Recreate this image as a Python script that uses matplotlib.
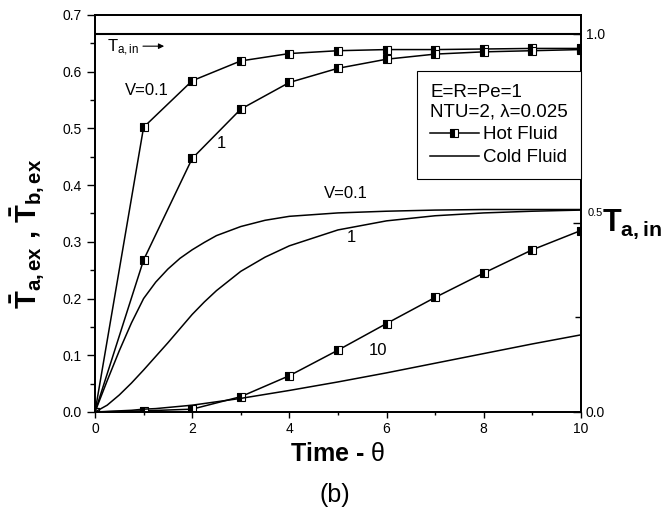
import matplotlib
matplotlib.use('Agg')
import matplotlib.pyplot as plt
from matplotlib.lines import Line2D
from matplotlib.ticker import MultipleLocator, FixedLocator

plt.rcParams['font.family'] = 'Liberation Sans'
plt.rcParams['mathtext.fontset'] = 'custom'
plt.rcParams['mathtext.rm'] = 'Liberation Sans'
plt.rcParams['mathtext.bf'] = 'Liberation Sans:bold'
plt.rcParams['mathtext.it'] = 'Liberation Sans:italic'

# hot fluid (markers at integer times)
theta_hot = [0, 1, 2, 3, 4, 5, 6, 7, 8, 9, 10]
hot_v01 = [0, 0.502, 0.584, 0.619, 0.632, 0.637, 0.639, 0.639, 0.640, 0.641, 0.641]
hot_v1 = [0, 0.268, 0.447, 0.534, 0.581, 0.606, 0.622, 0.631, 0.635, 0.637, 0.639]
hot_v10 = [0, 0.002, 0.005, 0.027, 0.064, 0.109, 0.156, 0.202, 0.245, 0.286, 0.320]

# cold fluid (smooth curves)
theta_cold = [0, 0.25, 0.5, 0.75, 1, 1.25, 1.5, 1.75, 2, 2.25, 2.5, 3, 3.5, 4, 5, 6, 7, 8, 9, 10]
cold_v01 = [0, 0.055, 0.108, 0.157, 0.200, 0.229, 0.252, 0.271, 0.286, 0.299, 0.311,
            0.327, 0.338, 0.345, 0.351, 0.354, 0.356, 0.357, 0.357, 0.357]
cold_v1 = [0, 0.012, 0.030, 0.051, 0.074, 0.098, 0.122, 0.147, 0.172, 0.194, 0.214,
           0.248, 0.273, 0.293, 0.321, 0.337, 0.346, 0.351, 0.354, 0.356]
cold_v10 = [0, 0.001, 0.002, 0.003, 0.005, 0.006, 0.008, 0.010, 0.012, 0.015, 0.018,
            0.024, 0.031, 0.038, 0.053, 0.069, 0.086, 0.103, 0.120, 0.136]

t_a_in = 0.667

hot_style = dict(color='k', lw=1.1, marker='s', ms=5.5, fillstyle='left',
                 markerfacecolor='k', markerfacecoloralt='white', mec='k', mew=0.8)

fig = plt.figure(figsize=(6.62, 5.2), dpi=100)
ax = fig.add_axes([0.1435, 0.2077, 0.734, 0.7635])

ax.plot(theta_hot, hot_v01, **hot_style)
ax.plot(theta_hot, hot_v1, **hot_style)
ax.plot(theta_hot, hot_v10, **hot_style)
ax.plot(theta_cold, cold_v01, 'k-', lw=1.1)
ax.plot(theta_cold, cold_v1, 'k-', lw=1.1)
ax.plot(theta_cold, cold_v10, 'k-', lw=1.1)
ax.axhline(t_a_in, color='k', lw=1.5)

ax.set_xlim(0, 10)
ax.set_ylim(0, 0.7)
ax.xaxis.set_major_locator(MultipleLocator(2))
ax.xaxis.set_minor_locator(MultipleLocator(1))
ax.yaxis.set_major_locator(MultipleLocator(0.1))
ax.yaxis.set_minor_locator(MultipleLocator(0.05))
ax.tick_params(which='both', direction='out', top=False, right=False, labelsize=10, width=1)
ax.tick_params(axis='y', which='major', length=6)
ax.tick_params(axis='y', which='minor', length=3.5)
ax.tick_params(axis='x', which='major', length=4)
ax.tick_params(axis='x', which='minor', length=2.5)
for s in ax.spines.values():
    s.set_linewidth(1.3)

ax.set_xlabel(r'Time - $\mathrm{\theta}$', fontsize=18, fontweight='bold', labelpad=4)
ax.set_ylabel(r'$\mathbf{\bar{T}_{a,ex}}$ , $\mathbf{\bar{T}_{b,ex}}$', fontsize=21, fontweight='bold')
ax.yaxis.set_label_coords(-0.1, 0.45)

ax2 = ax.twinx()
ax2.set_ylim(0, 1.05)
ax2.yaxis.set_major_locator(FixedLocator([0, 0.5, 1.0]))
ax2.yaxis.set_minor_locator(FixedLocator([0.25, 0.75]))
ax2.set_yticklabels(['0.0', '', '1.0'])
ax2.tick_params(which='both', direction='in', labelsize=10, width=1)
ax2.tick_params(which='major', length=6)
ax2.tick_params(which='minor', length=4)
for s in ax2.spines.values():
    s.set_linewidth(1.3)
ax2.text(1.014, 0.5, '0.5', transform=ax2.transAxes, fontsize=8, va='center', ha='left')
ax2.text(1.043, 0.455, r'$\mathbf{T_{a,in}}$', transform=ax2.transAxes, fontsize=22,
         va='baseline', ha='left')

# curve labels
ax.text(1.07, 0.566, 'V=0.1', fontsize=12, ha='center', va='center')
ax.text(2.6, 0.474, '1', fontsize=12, ha='center', va='center')
ax.text(5.16, 0.386, 'V=0.1', fontsize=12, ha='center', va='center')
ax.text(5.28, 0.307, '1', fontsize=12, ha='center', va='center')
ax.text(5.82, 0.109, '10', fontsize=12, ha='center', va='center')
ax.text(0.25, 0.635, r'T$_{\mathrm{a,in}}$', fontsize=12, ha='left', va='baseline')
ax.annotate('', xy=(1.48, 0.645), xytext=(0.93, 0.645),
            arrowprops=dict(arrowstyle='-|>', lw=0.8, color='k', mutation_scale=8))

handles = [Line2D([], [], **hot_style), Line2D([], [], color='k', lw=1.1)]
leg = ax2.legend(handles, ['Hot Fluid', 'Cold Fluid'], title='E=R=Pe=1\nNTU=2, \u03bb=0.025',
                 title_fontsize=13.5, fontsize=13.5, alignment='left', loc='upper right',
                 bbox_to_anchor=(1.0, 0.859), borderaxespad=0, fancybox=False,
                 edgecolor='black', framealpha=1, handlelength=2.6, handletextpad=0.25,
                 labelspacing=0.3, borderpad=0.7)
leg.get_frame().set_linewidth(0.8)

fig.text(0.506, 0.048, '(b)', fontsize=18, ha='center', va='center')

fig.savefig('out.png', dpi=100)
